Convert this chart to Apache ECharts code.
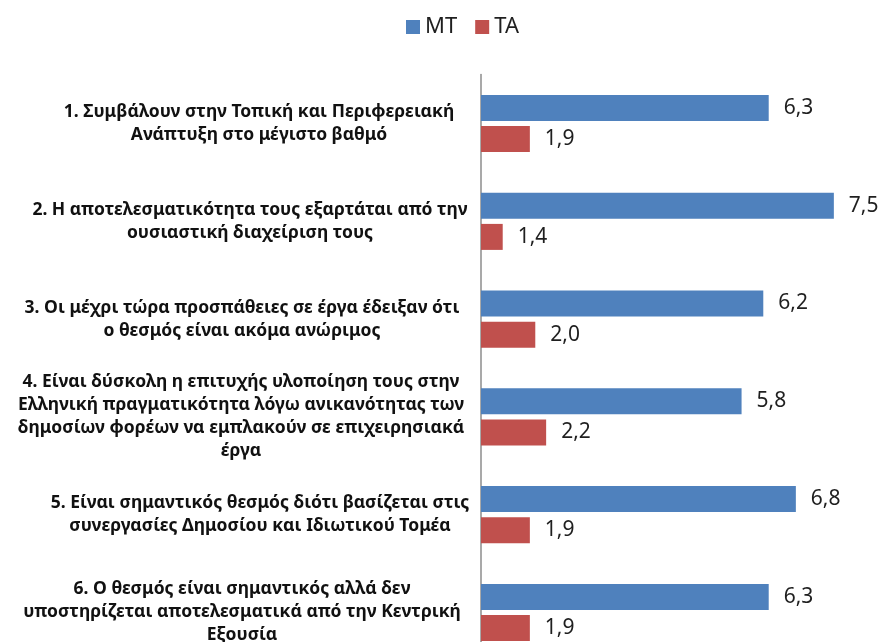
<!DOCTYPE html>
<html>
<head>
<meta charset="utf-8">
<script src="https://cdn.jsdelivr.net/npm/echarts@6/dist/echarts.min.js"></script>
<style>
html,body{margin:0;padding:0;background:#fff;}
#c{width:882px;height:642px;}
</style>
</head>
<body>
<div id="c"></div>
<script>
const categories = [
  "1. Συμβάλουν στην Τοπική και Περιφερειακή\nΑνάπτυξη στο μέγιστο βαθμό",
  "2. Η αποτελεσματικότητα τους εξαρτάται από την\nουσιαστική διαχείριση τους",
  "3. Οι μέχρι τώρα προσπάθειες σε έργα έδειξαν ότι\nο θεσμός είναι ακόμα ανώριμος",
  "4. Είναι δύσκολη η επιτυχής υλοποίηση τους στην\nΕλληνική πραγματικότητα λόγω ανικανότητας των\nδημοσίων φορέων να εμπλακούν σε επιχειρησιακά\nέργα",
  "5. Είναι σημαντικός θεσμός διότι βασίζεται στις\nσυνεργασίες Δημοσίου και Ιδιωτικού Τομέα",
  "6. Ο θεσμός είναι σημαντικός αλλά δεν\nυποστηρίζεται αποτελεσματικά από την Κεντρική\nΕξουσία"
];
const seriesNames = ["MT", "TA"];
const mtValues = [6.3, 7.5, 6.2, 5.8, 6.8, 6.3];
const taValues = [1.9, 1.4, 2.0, 2.2, 1.9, 1.9];
// horizontal shift (px) of each category label's centre, styling only
const labelShift = [9, 0, -8, -9, 10, -8];

const chart = echarts.init(document.getElementById('c'), null, {renderer: 'canvas'});
const fmt = p => p.value.toFixed(1).replace('.', ',');
const labelStyle = {
  show: true, position: 'right', distance: 15, formatter: fmt,
  fontFamily: 'Noto Sans', fontSize: 21, color: '#1f1f1f'
};
const catFont = {fontFamily: 'Noto Sans', fontWeight: 'bold', fontSize: 17.5, color: '#111111', lineHeight: 23};
const rich = {};
labelShift.forEach((s, i) => {
  rich['c' + i] = Object.assign({}, catFont, {
    padding: s >= 0 ? [0, 0, 0, 2 * s] : [0, -2 * s, 0, 0]
  });
});
chart.setOption({
  animation: false,
  backgroundColor: '#ffffff',
  legend: {
    data: seriesNames,
    top: 11, left: 401,
    icon: 'rect', itemWidth: 14, itemHeight: 14, itemGap: 18,
    textStyle: {fontFamily: 'Noto Sans', fontSize: 22, color: '#1f1f1f'}
  },
  grid: {left: 481, width: 380, top: 74.6, height: 586.8, containLabel: false, outerBoundsMode: 'none'},
  xAxis: {
    type: 'value', min: 1, max: 8, show: false,
    splitLine: {show: false}
  },
  yAxis: {
    type: 'category', data: categories, inverse: true,
    axisLine: {show: true, onZero: false, lineStyle: {color: '#8c8c8c', width: 1.5}},
    axisTick: {show: false},
    axisLabel: {
      margin: 231, align: 'center', lineHeight: 23,
      fontFamily: 'Noto Sans', fontWeight: 'bold', fontSize: 17.5, color: '#111111',
      formatter: (v, i) => v.split('\n').map(l => '{c' + i + '|' + l + '}').join('\n'),
      rich: rich
    }
  },
  series: [
    {name: seriesNames[0], type: 'bar', data: mtValues, barWidth: 26, barGap: '20%',
     itemStyle: {color: '#4F81BD'}, label: labelStyle},
    {name: seriesNames[1], type: 'bar', data: taValues, barWidth: 26, barGap: '20%',
     itemStyle: {color: '#C0504D'}, label: labelStyle}
  ]
});
</script>
</body>
</html>
